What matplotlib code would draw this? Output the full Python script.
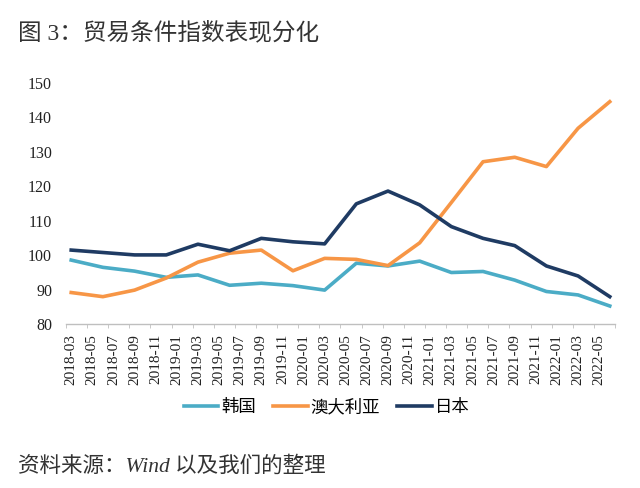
import matplotlib
matplotlib.use("Agg")
import matplotlib.pyplot as plt
from matplotlib.ticker import FixedLocator

# 月份轴（2018-03 ~ 2022-06），标签每两个月一个
months = ["2018-03", "2018-04", "2018-05", "2018-06", "2018-07", "2018-08",
          "2018-09", "2018-10", "2018-11", "2018-12", "2019-01", "2019-02",
          "2019-03", "2019-04", "2019-05", "2019-06", "2019-07", "2019-08",
          "2019-09", "2019-10", "2019-11", "2019-12", "2020-01", "2020-02",
          "2020-03", "2020-04", "2020-05", "2020-06", "2020-07", "2020-08",
          "2020-09", "2020-10", "2020-11", "2020-12", "2021-01", "2021-02",
          "2021-03", "2021-04", "2021-05", "2021-06", "2021-07", "2021-08",
          "2021-09", "2021-10", "2021-11", "2021-12", "2022-01", "2022-02",
          "2022-03", "2022-04", "2022-05", "2022-06"]

# 季度数据点
quarters = ["2018-03", "2018-06", "2018-09", "2018-12", "2019-03", "2019-06",
            "2019-09", "2019-12", "2020-03", "2020-06", "2020-09", "2020-12",
            "2021-03", "2021-06", "2021-09", "2021-12", "2022-03", "2022-06"]
korea = [98.6, 96.5, 95.4, 93.6, 94.3, 91.3, 91.9, 91.2, 89.9,
         97.7, 96.9, 98.3, 95.0, 95.3, 92.8, 89.5, 88.5, 85.3]
australia = [89.2, 88.0, 89.9, 93.4, 98.0, 100.6, 101.5, 95.5, 99.1,
             98.8, 97.0, 103.6, 115.3, 127.1, 128.4, 125.7, 136.8, 144.5]
japan = [101.5, 100.8, 100.1, 100.1, 103.2, 101.3, 104.9, 103.9, 103.3,
         114.9, 118.6, 114.6, 108.3, 104.9, 102.8, 96.9, 94.0, 88.0]

C_KR = "#4BACC6"
C_AU = "#F79646"
C_JP = "#1F3B63"

SERIF = ["Liberation Serif", "Noto Sans CJK SC"]
CJK = ["Noto Sans CJK SC", "DejaVu Sans"]

fig = plt.figure(figsize=(6.4, 4.88), dpi=100)
ax = fig.add_axes([0.103, 0.3355, 0.858, 0.495])

xq = [months.index(q) for q in quarters]
ax.plot(xq, korea, color=C_KR, lw=2.6, label="韩国", solid_joinstyle="round")
ax.plot(xq, australia, color=C_AU, lw=2.6, label="澳大利亚", solid_joinstyle="round")
ax.plot(xq, japan, color=C_JP, lw=2.6, label="日本", solid_joinstyle="round")

ax.set_xlim(-0.5, len(months) - 0.5)
ax.set_ylim(80, 150)
ax.set_yticks(range(80, 151, 10))
for lab in ax.get_yticklabels():
    lab.set_family(SERIF)
    lab.set_fontsize(11.5)
    lab.set_color("#222222")
ax.tick_params(axis="y", length=0, pad=10)

label_idx = list(range(0, len(months), 2))
ax.set_xticks(label_idx)
ax.set_xticklabels([months[i] for i in label_idx], rotation=90,
                   family=SERIF, fontsize=11, color="#222222")
ax.tick_params(axis="x", which="major", length=0, pad=7)
ax.xaxis.set_minor_locator(FixedLocator([i - 0.5 for i in range(0, len(months) + 1, 2)]))
ax.tick_params(axis="x", which="minor", length=3, color="#BFBFBF", direction="out")

for s in ["top", "right", "left"]:
    ax.spines[s].set_visible(False)
ax.spines["bottom"].set_color("#BFBFBF")
ax.spines["bottom"].set_linewidth(1)

fig.legend(loc="center", bbox_to_anchor=(0.51, 0.166), ncol=3, frameon=False,
           prop={"family": CJK, "size": 12.5}, handlelength=2.0,
           handletextpad=0.15, columnspacing=1.0)

fig.text(0.028, 0.932, "图 3：贸易条件指数表现分化", family=SERIF, fontsize=17,
         color="#333333", va="center")
fig.text(0.028, 0.045, "资料来源：Wind 以及我们的整理", family=SERIF,
         fontsize=15.5, style="italic", color="#333333", va="center")

fig.savefig("out.png", dpi=100, facecolor="white")
